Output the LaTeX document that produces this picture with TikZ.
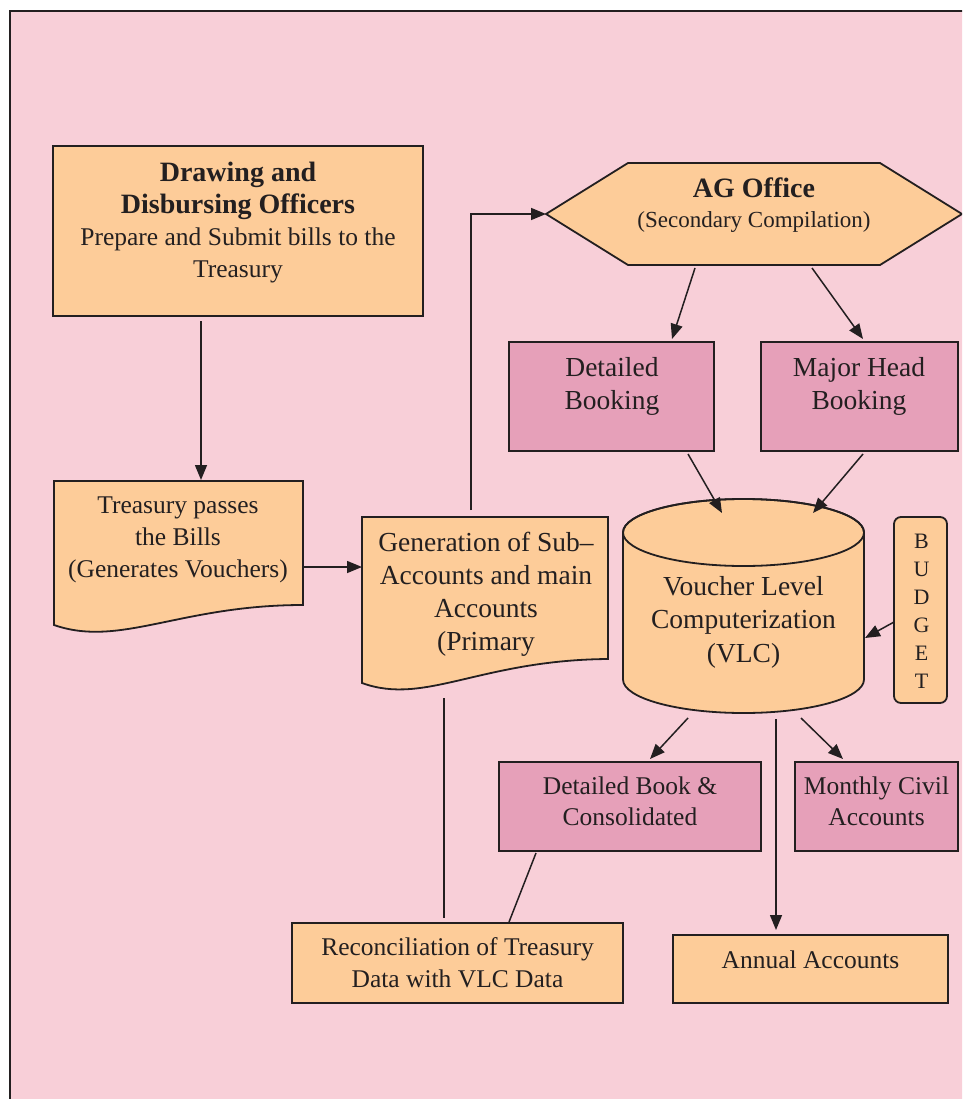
\documentclass[tikz,border=0pt]{standalone}
\usepackage{fontspec}
\setmainfont{Liberation Serif}
\usetikzlibrary{arrows.meta,calc}
\definecolor{pinkbg}{RGB}{248,207,216}
\definecolor{orangef}{RGB}{253,204,153}
\definecolor{pinkbox}{RGB}{230,160,185}
\definecolor{ink}{RGB}{35,31,32}
\tikzset{
  boxshape/.style={rectangle, inner sep=0pt, outer sep=0pt},
  obox/.style={boxshape, draw=ink, line width=1.8pt, fill=orangef},
  pbox/.style={boxshape, draw=ink, line width=1.8pt, fill=pinkbox},
  shapeline/.style={draw=ink, line width=1.8pt, fill=orangef},
  txt/.style={anchor=base, align=center, inner sep=0pt, text=ink},
  arr/.style={draw=ink, line width=1.5pt, -{Triangle[length=15pt,width=12pt]}},
  conn/.style={draw=ink, line width=1.5pt},
}
\begin{document}
\begin{tikzpicture}[x=1pt,y=-1pt]
\useasboundingbox (0,0) rectangle (962,1099);
\clip (0,0) rectangle (962,1099);
\fill[white] (0,0) rectangle (962,1099);
\draw[draw=ink, line width=2pt, fill=pinkbg] (10,11) rectangle (1000,1130);

% ---- DDO box
\node[obox, minimum width=370pt, minimum height=170pt] (ddo) at (238,231) {};
\node[txt, font=\fontsize{25.5}{32}\selectfont] (ddot) at (238,277)
  {{\bfseries\fontsize{28}{32}\selectfont Drawing and}\\{\bfseries\fontsize{28}{32}\selectfont Disbursing Officers}\\Prepare and Submit bills to the\\Treasury};

% ---- Treasury document
\node[boxshape, minimum width=249pt, minimum height=124pt] (tre) at (178.5,543) {};
\path[shapeline] (tre.north west) -- (tre.north east) -- (tre.south east)
  .. controls ([shift={(-123,0)}]tre.south east) and ([shift={(66,43)}]tre.south west) .. ([shift={(0,20)}]tre.south west) -- cycle;
\node[txt, font=\fontsize{25.5}{32}\selectfont] (tret) at (178,577)
  {Treasury passes\\the Bills\\(Generates Vouchers)};

% ---- Generation document
\node[boxshape, minimum width=246pt, minimum height=142pt] (gen) at (485,588) {};
\path[shapeline] (gen.north west) -- (gen.north east) -- (gen.south east)
  .. controls ([shift={(-128,1)}]gen.south east) and ([shift={(63,47)}]gen.south west) .. ([shift={(0,24)}]gen.south west) -- cycle;
\node[txt, font=\fontsize{27.5}{33}\selectfont] (gent) at (486,650)
  {Generation of Sub–\\Accounts and main\\Accounts\\(Primary};

% ---- AG Office hexagon
\node[boxshape, minimum width=416pt, minimum height=102pt] (ag) at (754,214) {};
\path[shapeline] (ag.west) -- ([xshift=82pt]ag.north west) -- ([xshift=-82pt]ag.north east)
  -- (ag.east) -- ([xshift=-82pt]ag.south east) -- ([xshift=82pt]ag.south west) -- cycle;
\node[txt, font=\fontsize{23}{30}\selectfont] (agt) at (754,228)
  {{\bfseries\fontsize{28}{30}\selectfont AG Office}\\(Secondary Compilation)};

% ---- Booking boxes
\node[pbox, minimum width=205pt, minimum height=109pt] (db) at (611.5,396.5) {};
\node[txt, font=\fontsize{27.5}{33}\selectfont] (dbt) at (612,409) {Detailed\\Booking};
\node[pbox, minimum width=197pt, minimum height=109pt] (mh) at (859.5,396.5) {};
\node[txt, font=\fontsize{27.5}{33}\selectfont] (mht) at (859,409) {Major Head\\Booking};

% ---- VLC cylinder
\node[boxshape, minimum width=241pt, minimum height=214pt] (vlc) at (743.5,606) {};
\path[shapeline] ([shift={(-120.5,-73.5)}]vlc.center) -- ([shift={(-120.5,73.5)}]vlc.center)
  arc[start angle=180, end angle=360, x radius=120.5pt, y radius=33.5pt]
  -- ([shift={(120.5,-73.5)}]vlc.center)
  arc[start angle=0, end angle=180, x radius=120.5pt, y radius=33.5pt] -- cycle;
\draw[draw=ink, line width=1.8pt] ([shift={(0,-73.5)}]vlc.center) ellipse[x radius=120.5pt, y radius=33.5pt];
\node[txt, font=\fontsize{27.5}{33.5}\selectfont] (vlct) at (743.5,662)
  {Voucher Level\\Computerization\\(VLC)};

% ---- BUDGET
\node[obox, rounded corners=7pt, minimum width=53pt, minimum height=186pt] (bud) at (920.5,610) {};
\node[txt, font=\fontsize{22}{28}\selectfont] (budt) at (921.5,688) {B\\U\\D\\G\\E\\T};

% ---- lower boxes
\node[pbox, minimum width=262pt, minimum height=89pt] (dbk) at (630,806.5) {};
\node[txt, font=\fontsize{25.5}{31}\selectfont] (dbkt) at (630,825) {Detailed Book \&\\Consolidated};
\node[pbox, minimum width=163pt, minimum height=89pt] (mca) at (876.5,806.5) {};
\node[txt, font=\fontsize{25.5}{31}\selectfont] (mcat) at (876.5,825) {Monthly Civil\\Accounts};
\node[obox, minimum width=331pt, minimum height=80pt] (rec) at (457.5,963) {};
\node[txt, font=\fontsize{25.5}{32}\selectfont] (rect) at (457.5,987)
  {Reconciliation of Treasury\\Data with VLC Data};
\node[obox, minimum width=275pt, minimum height=68pt] (ann) at (810.5,969) {};
\node[txt, font=\fontsize{25.5}{32}\selectfont] (annt) at (810.5,968) {Annual Accounts};

% ---- connectors
\draw[arr] ([shift={(148,5)}]ddo.south west) -- ([shift={(147,-1)}]tre.north west);
\draw[arr] ([shift={(0,24)}]tre.east) -- ([shift={(0,-21)}]gen.west);
\draw[arr] ([shift={(109,-7)}]gen.north west) |- (ag.west);
\draw[arr] ([shift={(149,3)}]ag.south west) -- ([shift={(163,-3)}]db.north west);
\draw[arr] ([shift={(266,3)}]ag.south west) -- ([shift={(102,-3)}]mh.north west);
\draw[arr] ([shift={(179,3)}]db.south west) -- ([shift={(99,14)}]vlc.north west);
\draw[arr] ([shift={(102,3)}]mh.south west) -- ([shift={(190,14)}]vlc.north west);
\draw[arr] ([shift={(0,12)}]bud.west) -- ([shift={(1,32)}]vlc.east);
\draw[arr] ([shift={(65,5)}]vlc.south west) -- ([shift={(151,-3)}]dbk.north west);
\draw[arr] ([shift={(178,5)}]vlc.south west) -- ([shift={(48,-3)}]mca.north west);
\draw[arr] ([shift={(153,6)}]vlc.south west) -- ([shift={(103,-5)}]ann.north west);
\draw[conn] ([shift={(82,39)}]gen.south west) -- ([shift={(152,-5)}]rec.north west);
\draw[conn] ([shift={(37,2)}]dbk.south west) -- ([shift={(217,-1)}]rec.north west);
\end{tikzpicture}
\end{document}
